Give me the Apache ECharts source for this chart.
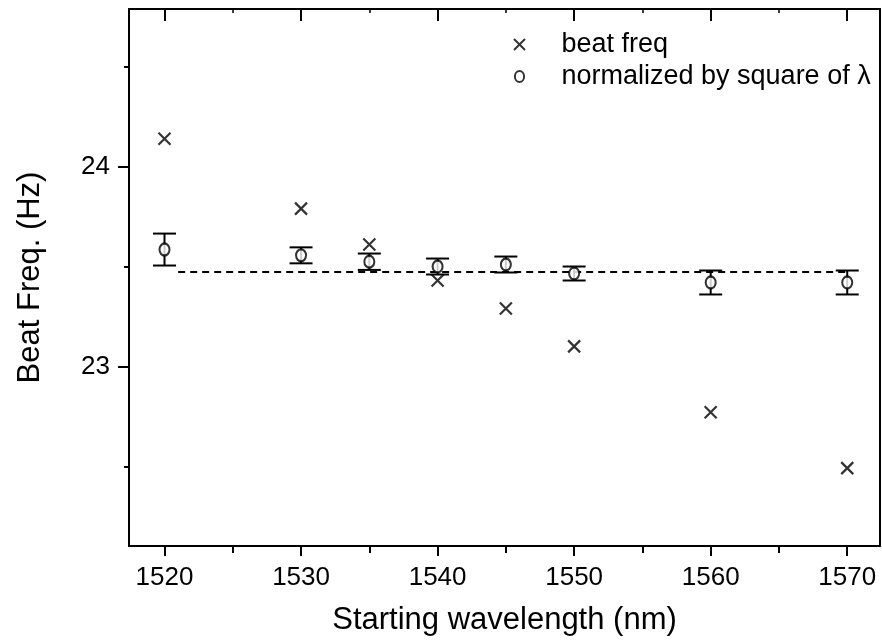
<!DOCTYPE html>
<html>
<head>
<meta charset="utf-8">
<script src="https://cdn.jsdelivr.net/npm/echarts@6/dist/echarts.min.js"></script>
<style>html,body{margin:0;padding:0;background:#fff}#c{width:882px;height:641px}</style>
</head>
<body>
<div id="c"></div>
<script>
// ---- data ----
const wavelengths = [1520, 1530, 1535, 1540, 1545, 1550, 1560, 1570];
const beatFreq    = [24.14, 23.79, 23.61, 23.43, 23.29, 23.10, 22.77, 22.49];
const normalized  = [23.585, 23.556, 23.524, 23.50, 23.51, 23.465, 23.42, 23.42];
const normErr     = [0.08, 0.04, 0.041, 0.04, 0.04, 0.035, 0.06, 0.06];
const refLineX    = [1521, 1570];
const refLineY    = 23.473;
const xMajorTicks = [1520, 1530, 1540, 1550, 1560, 1570];
const xMinorTicks = [1525, 1535, 1545, 1555, 1565];
const yMajorTicks = [23, 24];
const yMinorTicks = [22.5, 23.5, 24.5];
const seriesNames = ['beat freq', 'normalized by square of λ'];

const FONT = 'Liberation Sans, Arial, sans-serif';
const X_MIN = 1517.4, X_MAX = 1572.4, Y_MIN = 22.1, Y_MAX = 24.79;
const gridRect = {left: 129, right: 2, top: 9, bottom: 94};

const crossPath = 'path://M0,0L10,10M10,0L0,10';
const ellipsePath = 'path://M50,0A50,60 0 1,1 50,120A50,60 0 1,1 50,0Z';

const chart = echarts.init(document.getElementById('c'), null, {renderer: 'canvas'});
const axisLineStyle = {color: '#000', width: 2};
const plain = v => String(v);

const option = {
  backgroundColor: '#fff',
  animation: false,
  grid: [
    Object.assign({}, gridRect),
    Object.assign({}, gridRect)
  ],
  legend: {
    left: 508, top: 26, orient: 'vertical',
    itemWidth: 74, itemHeight: 11, itemGap: 5,
    symbolKeepAspect: true,
    textStyle: {fontFamily: FONT, fontSize: 27, color: '#000'},
    data: [
      {name: seriesNames[0], icon: crossPath, itemStyle: {color: 'rgba(0,0,0,0)', borderColor: '#000', borderWidth: 2}},
      {name: seriesNames[1], icon: ellipsePath, itemStyle: {color: '#fff', borderColor: '#000', borderWidth: 2}}
    ]
  },
  xAxis: [
    { gridIndex: 0, type: 'value', position: 'bottom', min: X_MIN, max: X_MAX,
      axisLine: {show: true, lineStyle: axisLineStyle},
      axisTick: {show: true, inside: false, length: 10, customValues: xMajorTicks, lineStyle: {color: '#000', width: 2}},
      axisLabel: {show: true, customValues: xMajorTicks, formatter: plain, margin: 19, fontFamily: FONT, fontSize: 26, color: '#000'},
      splitLine: {show: false},
      name: 'Starting wavelength (nm)', nameLocation: 'middle', nameGap: 59,
      nameTextStyle: {fontFamily: FONT, fontSize: 31, color: '#000'}
    },
    { gridIndex: 0, type: 'value', position: 'top', min: X_MIN, max: X_MAX,
      axisLine: {show: true, lineStyle: axisLineStyle},
      axisTick: {show: true, inside: true, length: 12, customValues: xMajorTicks, lineStyle: {color: '#000', width: 2}},
      axisLabel: {show: false}, splitLine: {show: false}
    },
    { gridIndex: 1, type: 'value', position: 'bottom', min: X_MIN, max: X_MAX,
      axisLine: {show: false},
      axisTick: {show: true, inside: false, length: 6, customValues: xMinorTicks, lineStyle: {color: '#000', width: 2}},
      axisLabel: {show: false}, splitLine: {show: false}
    },
    { gridIndex: 1, type: 'value', position: 'top', min: X_MIN, max: X_MAX,
      axisLine: {show: false},
      axisTick: {show: true, inside: true, length: 4, customValues: xMinorTicks, lineStyle: {color: '#000', width: 1.5}},
      axisLabel: {show: false}, splitLine: {show: false}
    }
  ],
  yAxis: [
    { gridIndex: 0, type: 'value', position: 'left', min: Y_MIN, max: Y_MAX,
      axisLine: {show: true, lineStyle: axisLineStyle},
      axisTick: {show: true, inside: false, length: 11, customValues: yMajorTicks, lineStyle: {color: '#000', width: 2}},
      axisLabel: {show: true, customValues: yMajorTicks, formatter: plain, margin: 19, fontFamily: FONT, fontSize: 26, color: '#000'},
      splitLine: {show: false},
      name: 'Beat Freq. (Hz)', nameLocation: 'middle', nameGap: 83, nameRotate: 90,
      nameTextStyle: {fontFamily: FONT, fontSize: 31, color: '#000'}
    },
    { gridIndex: 0, type: 'value', position: 'right', min: Y_MIN, max: Y_MAX,
      axisLine: {show: true, lineStyle: axisLineStyle},
      axisTick: {show: false}, axisLabel: {show: false}, splitLine: {show: false}
    },
    { gridIndex: 1, type: 'value', position: 'left', min: Y_MIN, max: Y_MAX,
      axisLine: {show: false},
      axisTick: {show: true, inside: false, length: 5, customValues: yMinorTicks, lineStyle: {color: '#000', width: 2}},
      axisLabel: {show: false}, splitLine: {show: false}
    },
    { gridIndex: 1, type: 'value', position: 'right', min: Y_MIN, max: Y_MAX,
      show: false
    }
  ],
  series: [
    {
      name: 'refline', type: 'line', xAxisIndex: 0, yAxisIndex: 0,
      data: refLineX.map(x => [x, refLineY]),
      symbol: 'none', silent: true, z: 1,
      lineStyle: {color: '#000', width: 2, type: [7, 5]}
    },
    {
      name: 'errbars', type: 'custom', xAxisIndex: 0, yAxisIndex: 0, z: 2,
      data: wavelengths.map((x, i) => [x, normalized[i], normalized[i] - normErr[i], normalized[i] + normErr[i]]),
      renderItem: function (params, api) {
        const x = api.value(0);
        const lo = api.coord([x, api.value(2)]);
        const hi = api.coord([x, api.value(3)]);
        const hw = 11.5;
        const st = {stroke: '#000', lineWidth: 2, fill: null};
        return {
          type: 'group',
          children: [
            {type: 'line', shape: {x1: lo[0], y1: lo[1], x2: hi[0], y2: hi[1]}, style: st},
            {type: 'line', shape: {x1: lo[0] - hw, y1: lo[1], x2: lo[0] + hw, y2: lo[1]}, style: st},
            {type: 'line', shape: {x1: hi[0] - hw, y1: hi[1], x2: hi[0] + hw, y2: hi[1]}, style: st}
          ]
        };
      }
    },
    {
      name: seriesNames[0], type: 'scatter', xAxisIndex: 0, yAxisIndex: 0, z: 3,
      data: wavelengths.map((x, i) => [x, beatFreq[i]]),
      symbol: crossPath, symbolSize: 12,
      itemStyle: {color: 'rgba(0,0,0,0)', borderColor: '#000', borderWidth: 2.2}
    },
    {
      name: seriesNames[1], type: 'scatter', xAxisIndex: 0, yAxisIndex: 0, z: 4,
      data: wavelengths.map((x, i) => [x, normalized[i]]),
      symbol: ellipsePath, symbolSize: [10, 12], symbolKeepAspect: false,
      itemStyle: {color: '#fff', borderColor: '#000', borderWidth: 2.2}
    }
  ]
};
chart.setOption(option);
</script>
</body>
</html>
